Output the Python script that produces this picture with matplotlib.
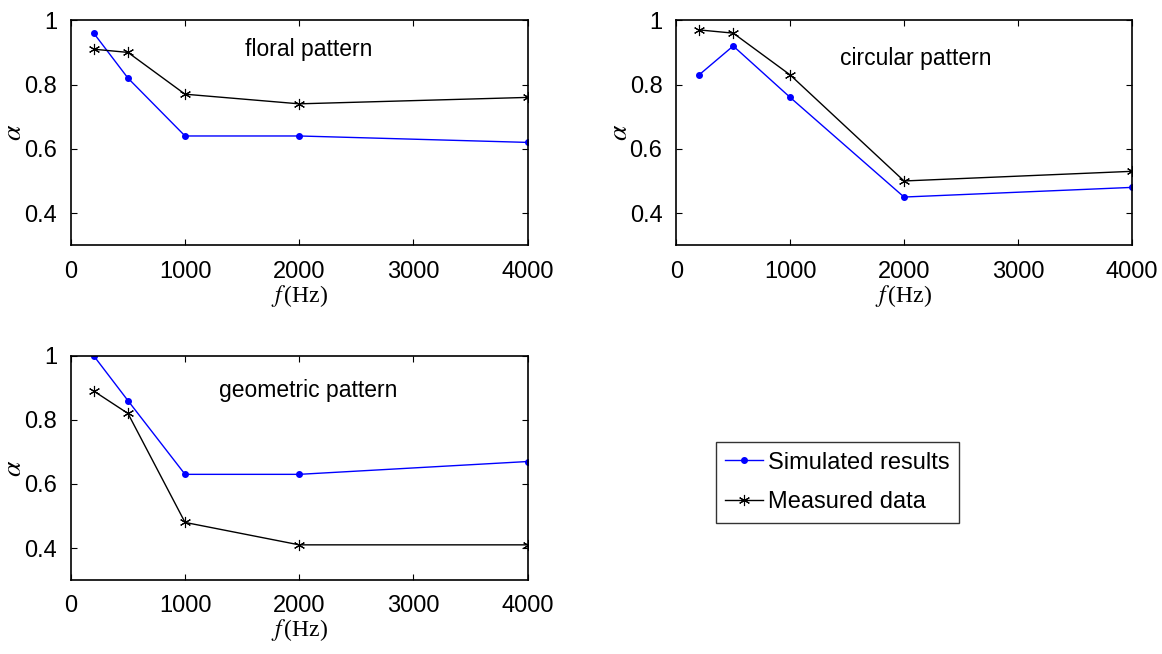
import matplotlib
matplotlib.use('Agg')
import matplotlib.pyplot as plt

plt.rcParams['font.family'] = ['Liberation Sans', 'DejaVu Sans']
plt.rcParams['mathtext.fontset'] = 'stix'

# Data
freq = [200, 500, 1000, 2000, 4000]

floral_sim = [0.96, 0.82, 0.64, 0.64, 0.62]
floral_meas = [0.91, 0.90, 0.77, 0.74, 0.76]

circular_sim = [0.83, 0.92, 0.76, 0.45, 0.48]
circular_meas = [0.97, 0.96, 0.83, 0.50, 0.53]

geometric_sim = [1.00, 0.86, 0.63, 0.63, 0.67]
geometric_meas = [0.89, 0.82, 0.48, 0.41, 0.41]

panels = [
    ('floral pattern', floral_sim, floral_meas, [0.061, 0.625, 0.393, 0.344], (0.52, 0.87)),
    ('circular pattern', circular_sim, circular_meas, [0.582, 0.625, 0.392, 0.344], (0.525, 0.83)),
    ('geometric pattern', geometric_sim, geometric_meas, [0.061, 0.113, 0.393, 0.343], (0.52, 0.845)),
]

fig = plt.figure(figsize=(11.62, 6.54), dpi=100)

for title, sim, meas, rect, tpos in panels:
    ax = fig.add_axes(rect)
    l1, = ax.plot(freq, sim, color='#0000ff', marker='.', markersize=8, lw=1,
                  label='Simulated results')
    l2, = ax.plot(freq, meas, color='black', marker=(6, 2, 0), markersize=8, lw=1,
                  markeredgewidth=0.8, label='Measured data')
    ax.set_xlim(0, 4000)
    ax.set_ylim(0.3, 1.0)
    ax.set_xticks([0, 1000, 2000, 3000, 4000])
    ax.set_yticks([0.4, 0.6, 0.8, 1.0])
    ax.set_yticklabels(['0.4', '0.6', '0.8', '1'])
    ax.tick_params(direction='in', length=4, width=0.8, labelsize=17,
                   top=True, right=True)
    ax.tick_params(axis='x', pad=11)
    ax.tick_params(axis='y', pad=10)
    for s in ax.spines.values():
        s.set_linewidth(1.2)
    ax.text(tpos[0], tpos[1], title, transform=ax.transAxes, ha='center',
            va='center', fontsize=16.5)
    ax.set_xlabel(r'$f\,$(Hz)', fontsize=17, family='Liberation Serif', labelpad=0)
    ax.set_ylabel(r'$\alpha$', fontsize=20)
    ax.yaxis.set_label_coords(-0.095, 0.5)

fig.legend(handles=[l1, l2], loc='upper left', bbox_to_anchor=(0.616, 0.324),
           fontsize=17, frameon=True, fancybox=False, edgecolor='black',
           handlelength=1.6, handletextpad=0.2, borderpad=0.4, labelspacing=0.75,
           borderaxespad=0)

fig.savefig('out.png', dpi=100)
